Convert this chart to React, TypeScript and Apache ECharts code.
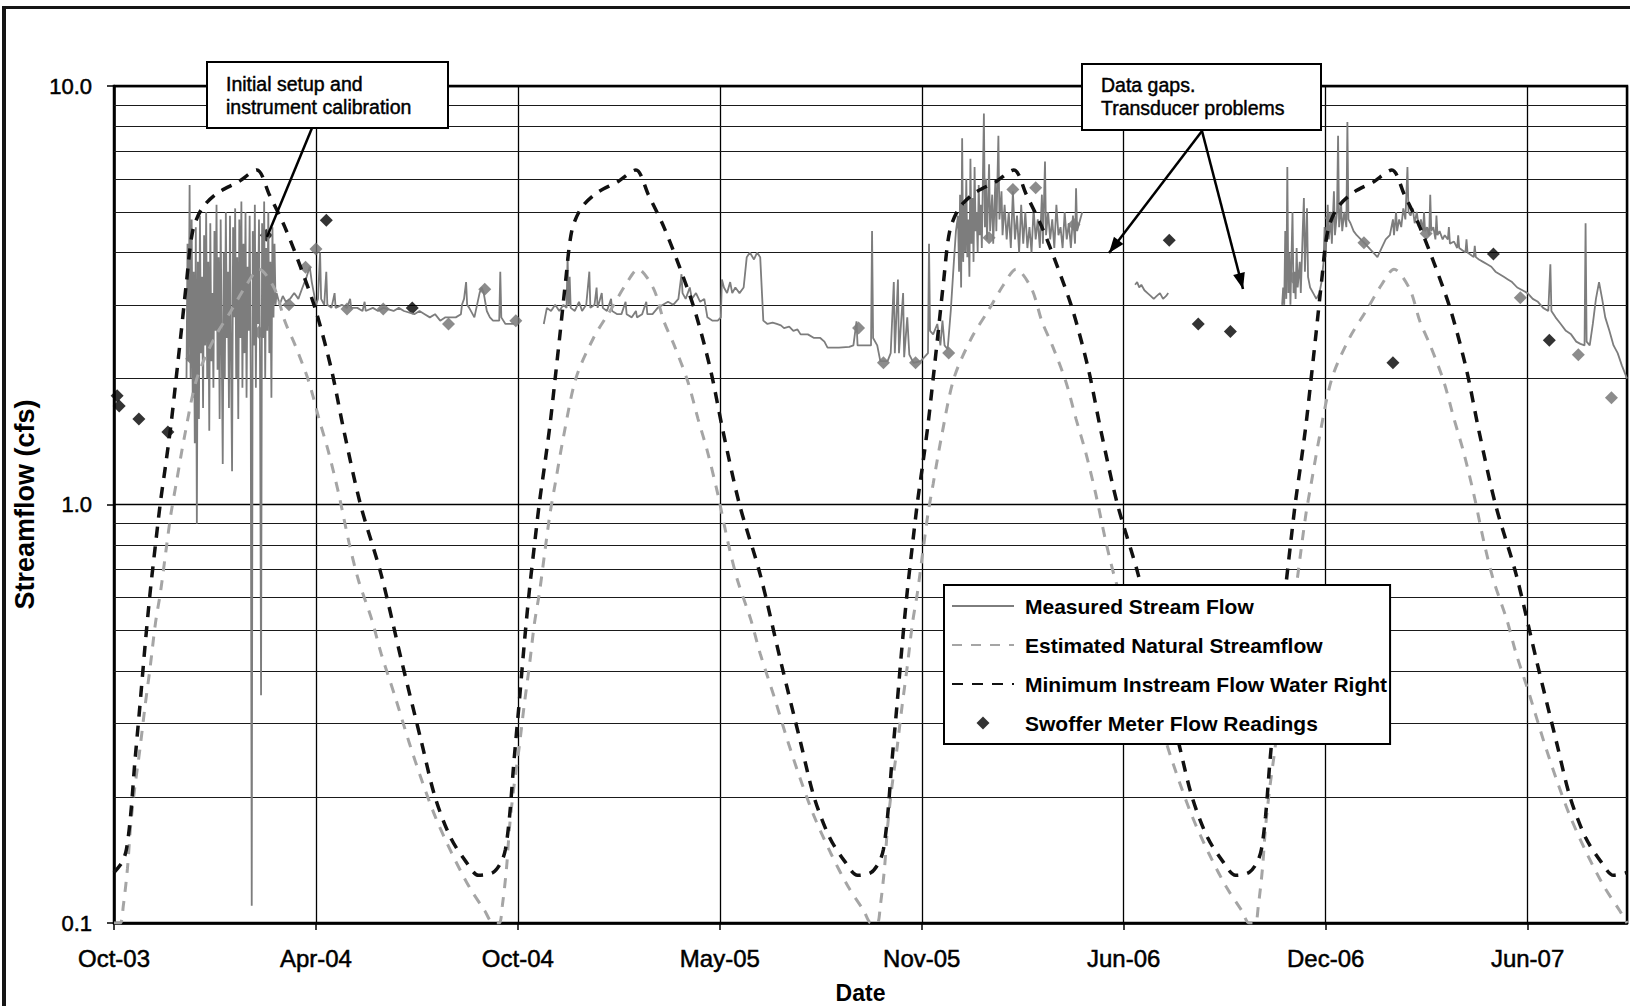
import React, { useEffect, useRef } from "react";
import * as echarts from "echarts";

// x values are days counted from 1 Oct 2003
const AXIS_START_UTC = Date.UTC(2003, 9, 1);
const X_MIN = 0;
const X_MAX = 1461; // 1 Oct 2007
const X_INTERVAL = 195;
const MONTHS = ["Jan", "Feb", "Mar", "Apr", "May", "Jun", "Jul", "Aug", "Sep", "Oct", "Nov", "Dec"];

// start day of each water year (1 Oct) shown on the chart
const waterYearStarts = [0, 366, 731, 1096];

// Estimated Natural Streamflow: annual curve (day of water year, cfs)
const naturalWyDays = [0, 6, 9, 13, 16, 20, 25, 30, 35, 40, 45, 50, 55, 60, 68, 80, 97, 113, 128, 140, 155, 165, 175, 188, 198, 207, 217, 227, 236, 249, 258, 271, 285, 297, 310, 326, 343, 358, 365];
const naturalWyValues = [0.1, 0.1, 0.11, 0.135, 0.17, 0.21, 0.26, 0.33, 0.41, 0.52, 0.62, 0.77, 0.95, 1.12, 1.45, 2.0, 2.5, 2.9, 3.35, 3.65, 3.28, 2.74, 2.4, 1.97, 1.6, 1.34, 1.06, 0.81, 0.66, 0.53, 0.44, 0.35, 0.27, 0.22, 0.18, 0.147, 0.122, 0.107, 0.1];

// Minimum Instream Flow Water Right: annual curve (day of water year, cfs)
const instreamWyDays = [0, 8, 12, 16, 20, 25, 30, 35, 40, 45, 50, 55, 60, 65, 70, 76, 85, 100, 120, 138, 150, 165, 180, 195, 210, 222, 238, 258, 278, 297, 310, 325, 340, 352, 365];
const instreamWyValues = [0.132, 0.14, 0.15, 0.18, 0.24, 0.33, 0.46, 0.62, 0.8, 1.02, 1.25, 1.55, 2.0, 2.6, 3.4, 4.5, 5.1, 5.55, 5.9, 6.3, 5.5, 4.6, 3.7, 2.9, 2.1, 1.5, 1.0, 0.68, 0.42, 0.27, 0.2, 0.16, 0.14, 0.13, 0.132];

// Swoffer meter readings (day, cfs)
const swofferDays = [3, 5, 24, 52, 75, 140, 147, 169, 185, 195, 205, 225, 260, 288, 323, 358, 388, 719, 743, 774, 806, 845, 868, 890, 927, 1019, 1047, 1078, 1139, 1175, 1207, 1235, 1267, 1332, 1358, 1386, 1414, 1446];
const swofferValues = [1.82, 1.72, 1.6, 1.49, 2.23, 2.58, 4.4, 3.0, 3.69, 4.08, 4.78, 2.93, 2.93, 2.95, 2.7, 3.27, 2.75, 2.64, 2.18, 2.18, 2.3, 4.34, 5.66, 5.71, 4.67, 4.28, 2.7, 2.59, 3.48, 4.84, 4.22, 2.18, 4.44, 3.97, 3.12, 2.47, 2.28, 1.8];
// readings that appear grey because the measured trace runs over them
const swofferUnderTrace = [4, 5, 7, 8, 9, 11, 12, 14, 15, 16, 17, 18, 19, 20, 21, 22, 23, 24, 28, 29, 30, 32, 34, 36, 37];

// Measured Stream Flow (day, cfs)
const measuredSetup: [number, number][] = [
  [70, 2.0], [71, 4.2], [72, 2.2], [73, 5.8], [74, 2.0], [75, 4.8], [76, 1.8], [77, 3.6], [78, 1.4], [79, 4.6],
  [80, 0.9], [81, 3.8], [82, 1.6], [83, 4.9], [84, 2.3], [85, 3.5], [86, 1.7], [87, 4.4], [88, 2.4], [89, 5.0],
  [90, 2.0], [91, 3.8], [92, 1.5], [93, 4.7], [94, 2.2], [95, 3.2], [96, 1.9], [97, 4.5], [98, 2.6], [99, 5.2],
  [100, 2.1], [101, 3.9], [102, 1.6], [103, 4.8], [104, 2.4], [105, 1.25], [106, 4.0], [107, 2.0], [108, 5.0], [109, 2.5],
  [110, 3.6], [111, 1.7], [112, 4.9], [113, 2.2], [114, 1.2], [115, 4.6], [116, 2.8], [117, 5.1], [118, 2.0], [119, 3.9],
  [120, 1.6], [121, 4.8], [122, 2.5], [123, 5.3], [124, 1.9], [125, 4.2], [126, 2.3], [127, 5.0], [128, 1.8], [129, 3.7],
  [130, 2.6], [131, 4.9], [132, 2.1], [133, 0.11], [134, 4.5], [135, 2.4], [136, 5.2], [137, 1.9], [138, 4.0], [139, 2.7],
  [140, 4.8], [141, 2.2], [142, 0.35], [143, 4.7], [144, 2.5], [145, 5.3], [146, 2.0], [147, 4.1], [148, 2.6], [149, 5.0],
  [150, 2.3], [151, 3.8], [152, 1.8], [153, 4.6], [154, 2.8], [155, 4.2], [156, 3.0], [157, 3.2],
];
const measuredWy2004: [number, number][] = [
  [160, 3.0], [163, 3.15], [166, 3.05], [170, 3.1], [174, 3.2], [178, 3.1], [182, 3.3], [186, 3.5], [189, 3.7], [191, 3.4],
  [193, 3.2], [195, 3.0], [197, 3.1], [199, 4.0], [200, 3.1], [203, 3.0], [205, 3.6], [206, 3.0], [210, 2.95], [213, 3.2],
  [214, 2.95], [220, 3.0], [225, 2.95], [228, 3.1], [229, 2.95], [235, 2.95], [240, 2.9], [242, 3.05], [243, 2.9], [250, 2.95],
  [255, 2.9], [260, 2.95], [270, 2.9], [275, 2.95], [280, 2.9], [290, 2.85], [295, 2.9], [300, 2.85], [305, 2.8], [310, 2.85],
  [315, 2.75], [320, 2.8], [330, 2.8], [335, 2.85], [336, 3.0], [338, 3.1], [340, 3.4], [341, 3.0], [343, 2.95], [348, 2.8],
  [353, 3.2], [355, 3.3], [357, 3.2], [360, 2.9], [363, 2.8], [366, 2.75], [372, 2.75], [373, 3.6], [374, 2.8], [378, 2.7],
  [386, 2.7],
];
const measuredWy2005: [number, number][] = [
  [415, 2.7], [418, 2.95], [422, 2.9], [426, 3.0], [430, 2.9], [434, 3.0], [437, 2.95], [438, 3.9], [439, 3.0], [440, 3.5],
  [441, 2.95], [445, 2.9], [449, 3.05], [452, 2.9], [456, 3.0], [459, 3.6], [460, 2.95], [464, 3.0], [466, 3.3], [467, 2.95],
  [471, 3.2], [472, 2.95], [476, 2.9], [480, 3.1], [481, 2.9], [486, 2.85], [490, 2.85], [494, 3.05], [495, 2.85], [500, 2.8],
  [504, 2.9], [505, 2.8], [510, 2.85], [514, 3.05], [515, 2.85], [520, 2.85], [525, 2.95], [530, 3.0], [535, 3.05], [540, 3.0],
  [545, 3.1], [548, 3.55], [549, 3.2], [552, 3.1], [556, 3.3], [558, 3.1], [562, 3.2], [566, 3.05], [570, 3.1], [573, 2.8],
  [578, 2.75], [583, 2.75], [586, 2.8], [587, 3.45], [589, 3.3], [592, 3.2], [595, 3.4], [597, 3.2], [600, 3.3], [604, 3.2],
  [608, 3.3], [611, 3.9], [614, 4.0], [618, 3.85], [621, 4.0], [624, 3.9], [627, 2.75], [631, 2.7], [636, 2.72], [640, 2.7],
  [644, 2.68], [647, 2.64], [652, 2.66], [656, 2.6], [660, 2.62], [663, 2.55], [670, 2.55], [676, 2.5], [682, 2.5], [686, 2.45],
  [689, 2.37], [700, 2.37], [710, 2.38], [714, 2.4], [717, 2.74], [718, 2.4], [725, 2.4], [731, 2.4], [732, 4.5], [733, 2.5],
  [737, 2.4], [740, 2.2], [747, 2.2], [750, 2.3], [753, 3.4], [754, 2.3], [757, 3.45], [758, 2.3], [762, 3.2], [763, 2.25],
  [766, 2.8], [768, 2.28], [772, 2.18], [779, 2.2], [786, 2.3], [787, 4.2], [788, 2.6], [791, 2.55], [795, 2.7], [798, 2.4],
  [800, 2.75], [802, 2.4], [805, 2.35], [808, 2.9], [811, 3.8], [813, 4.5], [815, 4.9],
  [816, 3.6], [817, 5.5], [818, 3.3], [819, 7.5], [820, 3.8], [821, 5.2], [822, 4.0], [823, 6.0], [824, 3.9], [825, 4.8],
  [826, 3.5], [827, 6.7], [828, 4.2], [829, 5.4], [830, 3.8], [831, 6.4], [832, 4.5], [833, 5.0], [834, 4.0], [835, 5.8],
  [836, 4.4], [837, 5.2], [838, 4.1], [840, 8.6], [841, 4.6], [842, 6.0], [843, 4.3], [845, 6.5], [846, 4.5], [848, 5.5],
  [849, 4.2], [851, 5.9], [852, 4.5], [854, 7.6], [855, 4.8], [857, 5.6], [858, 4.4], [860, 5.2], [862, 4.3], [864, 5.0],
  [866, 4.1], [868, 5.6], [870, 4.3], [872, 4.9], [874, 4.0], [876, 5.2], [878, 4.2], [880, 5.0], [882, 4.1], [884, 4.6],
  [886, 4.0], [888, 5.1], [890, 4.3], [892, 4.8], [894, 4.1], [896, 5.5], [897, 4.2], [899, 6.6], [900, 4.4], [902, 5.0],
  [904, 4.3], [906, 4.8], [908, 4.1], [910, 5.2], [912, 4.4], [914, 4.6], [916, 4.1], [918, 5.0], [920, 4.3], [922, 4.7],
  [924, 4.1], [926, 4.9], [928, 4.2], [929, 5.7], [930, 4.5], [932, 4.7], [934, 4.9], [935, 5.0],
];
const measuredSpring2006: [number, number][] = [
  [986, 3.35], [988, 3.4], [990, 3.3], [992, 3.35], [995, 3.25], [998, 3.2], [1001, 3.15], [1004, 3.1], [1007, 3.15], [1010, 3.2],
  [1013, 3.1], [1016, 3.15], [1018, 3.2],
];
const measuredWy2007: [number, number][] = [
  [1128, 3.0], [1129, 3.3], [1130, 3.0], [1131, 4.5], [1132, 3.1], [1133, 6.4], [1134, 3.2], [1135, 4.0], [1136, 3.0], [1138, 5.0],
  [1139, 3.2], [1140, 3.6], [1141, 3.1], [1142, 4.1], [1143, 3.3], [1145, 3.8], [1146, 3.2], [1148, 4.6], [1149, 5.4], [1150, 3.6],
  [1152, 5.1], [1153, 3.5], [1155, 3.3], [1158, 3.2], [1161, 3.1], [1164, 3.2], [1166, 3.4], [1168, 3.8], [1169, 4.6], [1170, 3.9],
  [1172, 5.2], [1173, 4.3], [1175, 4.8], [1176, 4.2], [1178, 5.6], [1179, 4.4], [1181, 5.0], [1182, 7.6], [1183, 4.6], [1185, 5.2],
  [1186, 4.5], [1188, 5.0], [1190, 4.6], [1191, 8.2], [1192, 4.8], [1194, 4.7], [1197, 4.5], [1200, 4.4], [1204, 4.3], [1208, 4.2],
  [1212, 4.1], [1216, 4.0], [1220, 3.9], [1224, 4.1], [1228, 4.3], [1232, 4.4], [1235, 4.8], [1236, 4.4], [1238, 5.0], [1239, 4.5],
  [1241, 4.8], [1243, 4.6], [1245, 5.1], [1247, 4.8], [1249, 6.4], [1250, 5.0], [1252, 4.9], [1254, 5.1], [1256, 4.7], [1258, 5.0],
  [1260, 4.6], [1262, 4.8], [1264, 4.5], [1265, 5.0], [1266, 4.5], [1268, 4.6], [1270, 4.4], [1271, 5.5], [1272, 4.5], [1274, 4.6],
  [1276, 4.3], [1277, 4.9], [1278, 4.4], [1280, 4.5], [1283, 4.3], [1285, 4.4], [1288, 4.3], [1289, 4.6], [1290, 4.2], [1294, 4.25],
  [1297, 4.1], [1298, 4.4], [1299, 4.1], [1302, 4.05], [1305, 4.0], [1306, 4.3], [1307, 4.0], [1310, 3.95], [1313, 3.9], [1314, 4.15],
  [1315, 3.9], [1318, 3.85], [1322, 3.8], [1326, 3.75], [1330, 3.7], [1334, 3.6], [1338, 3.55], [1342, 3.5], [1346, 3.45], [1350, 3.4],
  [1355, 3.3], [1360, 3.25], [1365, 3.2], [1370, 3.1], [1375, 3.05], [1380, 2.95], [1385, 2.9], [1387, 3.75], [1388, 2.9], [1392, 2.8],
  [1397, 2.7], [1402, 2.6], [1407, 2.55], [1412, 2.45], [1416, 2.42], [1420, 2.4], [1421, 4.7], [1422, 2.45], [1425, 2.4], [1428, 2.7],
  [1431, 3.1], [1434, 3.4], [1437, 3.1], [1440, 2.8], [1444, 2.6], [1448, 2.4], [1452, 2.3], [1456, 2.15], [1461, 2.0],
];
// days inside the data gaps (no record)
const measuredGapDays = [400, 960, 1070];

// minor log gridlines
const minorGridValues = [0.2, 0.3, 0.4, 0.5, 0.6, 0.7, 0.8, 0.9, 2, 3, 4, 5, 6, 7, 8, 9];

const FONT = '"Liberation Sans", Arial, Helvetica, sans-serif';

function dayLabel(v: number): string {
  const d = new Date(AXIS_START_UTC + Math.round(v) * 86400000);
  return MONTHS[d.getUTCMonth()] + "-" + String(d.getUTCFullYear() % 100).padStart(2, "0");
}

function repeatAnnual(days: number[], values: number[]): [number, number][] {
  const out: [number, number][] = [];
  waterYearStarts.forEach((start, yi) => {
    days.forEach((d, i) => {
      if (d === 365 && yi < waterYearStarts.length - 1) return;
      out.push([start + d, values[i]]);
    });
  });
  return out;
}

function arrowHead(x1: number, y1: number, x2: number, y2: number, len: number, half: number) {
  const dx = x2 - x1;
  const dy = y2 - y1;
  const L = Math.hypot(dx, dy);
  const ux = dx / L;
  const uy = dy / L;
  const bx = x2 - ux * len;
  const by = y2 - uy * len;
  return [
    [x2, y2],
    [bx - uy * half, by + ux * half],
    [bx + uy * half, by - ux * half],
  ];
}

export default function App() {
  const ref = useRef<HTMLDivElement>(null);

  useEffect(() => {
    if (!ref.current) return;
    const chart = echarts.init(ref.current, undefined, { renderer: "svg" });

    const measured: any[] = [
      ...measuredSetup,
      ...measuredWy2004,
      [measuredGapDays[0], "-"],
      ...measuredWy2005,
      [measuredGapDays[1], "-"],
      ...measuredSpring2006,
      [measuredGapDays[2], "-"],
      ...measuredWy2007,
    ];
    const natural = repeatAnnual(naturalWyDays, naturalWyValues);
    const instream = repeatAnnual(instreamWyDays, instreamWyValues);
    const greySet = new Set(swofferUnderTrace);
    const swoffer = swofferDays.map((d, i) => ({
      value: [d, swofferValues[i]],
      itemStyle: { color: greySet.has(i) ? "#6f6f6f" : "#000" },
    }));

    // annotation geometry
    const a1 = { x1: 312, y1: 128, x2: 267, y2: 237 };
    const a2 = { x1: 1202, y1: 131, x2: 1109, y2: 253 };
    const a3 = { x1: 1202, y1: 131, x2: 1243, y2: 289 };

    const annText = {
      fontSize: 19.5,
      lineHeight: 23,
      fontFamily: FONT,
      fill: "#000",
      stroke: "#000",
      lineWidth: 0.45,
      align: "left",
      verticalAlign: "top",
    };

    const option: any = {
      animation: false,
      backgroundColor: "#ffffff",
      textStyle: { fontFamily: FONT },
      grid: {
        left: 114,
        right: 3,
        top: 86,
        bottom: 83,
        containLabel: false,
        outerBoundsMode: "none",
        show: true,
        borderColor: "#000",
        borderWidth: 2.5,
        backgroundColor: "transparent",
      },
      legend: {
        orient: "vertical",
        left: 944,
        top: 585,
        z: 20,
        itemWidth: 62,
        itemHeight: 13,
        itemGap: 17,
        padding: [10, 3, 10, 7],
        backgroundColor: "#fff",
        borderColor: "#000",
        borderWidth: 2,
        borderRadius: 0,
        selectedMode: false,
        textStyle: {
          fontSize: 21,
          fontWeight: "bold",
          color: "#000",
          fontFamily: FONT,
          lineHeight: 22,
          padding: [0, 0, 0, 6],
        },
        data: [
          { name: "Measured Stream Flow", itemStyle: { opacity: 0 } },
          { name: "Estimated Natural Streamflow", itemStyle: { opacity: 0 } },
          { name: "Minimum Instream Flow Water Right", itemStyle: { opacity: 0 } },
          { name: "Swoffer Meter Flow Readings", icon: "path://M5,0L10,5L5,10L0,5Z" },
        ],
      },
      xAxis: {
        type: "value",
        min: X_MIN,
        max: X_MAX,
        interval: X_INTERVAL,
        name: "Date",
        nameLocation: "middle",
        nameGap: 58,
        nameTextStyle: { fontSize: 23, fontWeight: "bold", color: "#000", fontFamily: FONT, padding: [0, 20, 0, 0] },
        axisLine: { show: true, onZero: false, lineStyle: { color: "#000", width: 2.5 } },
        axisTick: { show: true, inside: false, length: 7, lineStyle: { color: "#000", width: 1.5 } },
        axisLabel: {
          margin: 23,
          fontSize: 24,
          color: "#000",
          fontFamily: FONT,
          textBorderColor: "#000",
          textBorderWidth: 0.5,
          showMaxLabel: false,
          formatter: (v: number) => (v % X_INTERVAL === 0 && v < X_MAX ? dayLabel(v) : ""),
        },
        splitLine: { show: true, lineStyle: { color: "#000", width: 1.3 } },
      },
      yAxis: {
        type: "log",
        logBase: 10,
        min: 0.1,
        max: 10,
        name: "Streamflow (cfs)",
        nameLocation: "middle",
        nameGap: 71,
        nameRotate: 90,
        nameTextStyle: { fontSize: 27, fontWeight: "bold", color: "#000", fontFamily: FONT },
        axisLine: { show: true, lineStyle: { color: "#000", width: 2.5 } },
        axisTick: { show: true, inside: false, length: 7, lineStyle: { color: "#000", width: 1.5 } },
        axisLabel: {
          margin: 22,
          fontSize: 22,
          color: "#000",
          fontFamily: FONT,
          textBorderColor: "#000",
          textBorderWidth: 0.5,
          formatter: (v: number) => Number(v).toFixed(1),
        },
        splitLine: { show: true, lineStyle: { color: "#000", width: 1.3 } },
      },
      series: [
        {
          name: "Measured Stream Flow",
          type: "line",
          data: measured,
          symbol: "none",
          showSymbol: false,
          connectNulls: false,
          z: 4,
          lineStyle: { color: "#7d7d7d", width: 1.8 },
          itemStyle: { color: "#7d7d7d" },
          emphasis: { disabled: true },
          markLine: {
            silent: true,
            symbol: ["none", "none"],
            z: 1,
            label: { show: false },
            lineStyle: { color: "#1a1a1a", width: 1.1, type: "solid" },
            emphasis: { disabled: true },
            data: minorGridValues.map((v) => ({ yAxis: v })),
          },
        },
        {
          name: "Estimated Natural Streamflow",
          type: "line",
          data: natural,
          symbol: "none",
          showSymbol: false,
          smooth: 0.3,
          z: 5,
          lineStyle: { color: "#a5a5a5", width: 3, type: [10, 9] },
          itemStyle: { color: "#a5a5a5" },
          emphasis: { disabled: true },
        },
        {
          name: "Minimum Instream Flow Water Right",
          type: "line",
          data: instream,
          symbol: "none",
          showSymbol: false,
          smooth: 0.3,
          z: 6,
          lineStyle: { color: "#111", width: 3.5, type: [11, 9] },
          itemStyle: { color: "#111" },
          emphasis: { disabled: true },
        },
        {
          name: "Swoffer Meter Flow Readings",
          type: "scatter",
          data: swoffer,
          symbol: "diamond",
          symbolSize: 13,
          z: 3,
          itemStyle: { color: "#000" },
          emphasis: { disabled: true },
        },
      ],
      graphic: [
        { type: "rect", silent: true, z: 100, shape: { x: 2, y: 6, width: 1628, height: 3 }, style: { fill: "#151515" } },
        { type: "rect", silent: true, z: 100, shape: { x: 2, y: 6, width: 4, height: 1000 }, style: { fill: "#151515" } },
        { type: "line", silent: true, z: 100, shape: a1, style: { stroke: "#000", lineWidth: 2.5 } },
        {
          type: "rect",
          silent: true,
          z: 101,
          shape: { x: 207, y: 62, width: 241, height: 66 },
          style: { fill: "#fff", stroke: "#000", lineWidth: 2 },
        },
        {
          type: "text",
          silent: true,
          z: 102,
          x: 226,
          y: 72,
          style: { ...annText, text: "Initial setup and\ninstrument calibration" },
        },
        { type: "line", silent: true, z: 100, shape: a2, style: { stroke: "#000", lineWidth: 2.5 } },
        { type: "polygon", silent: true, z: 100, shape: { points: arrowHead(a2.x1, a2.y1, a2.x2, a2.y2, 16, 6) }, style: { fill: "#000" } },
        { type: "line", silent: true, z: 100, shape: a3, style: { stroke: "#000", lineWidth: 2.5 } },
        { type: "polygon", silent: true, z: 100, shape: { points: arrowHead(a3.x1, a3.y1, a3.x2, a3.y2, 16, 6) }, style: { fill: "#000" } },
        {
          type: "rect",
          silent: true,
          z: 101,
          shape: { x: 1082, y: 64, width: 239, height: 66 },
          style: { fill: "#fff", stroke: "#000", lineWidth: 2 },
        },
        {
          type: "text",
          silent: true,
          z: 102,
          x: 1101,
          y: 73,
          style: { ...annText, text: "Data gaps.\nTransducer problems" },
        },
      ],
    };

    chart.setOption(option);
    return () => chart.dispose();
  }, []);

  return (
    <div
      ref={ref}
      style={{ position: "fixed", left: 0, top: 0, width: 1630, height: 1006, background: "#fff" }}
    />
  );
}
